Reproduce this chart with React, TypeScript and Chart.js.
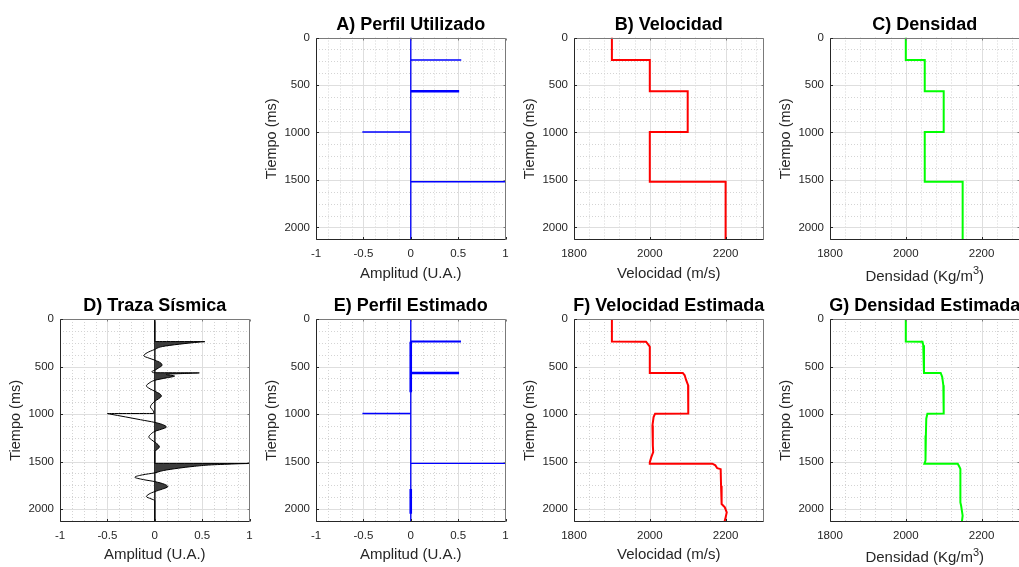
import React, { useEffect, useRef } from 'react';
import { Chart, registerables } from 'chart.js';

Chart.register(...registerables);

// ---------- axes ----------
const T_END = 2133;
const TIME_TICKS = [0, 500, 1000, 1500, 2000];
const TIME_MINOR = 125;
const AMP_TICKS = [-1, -0.5, 0, 0.5, 1];
const AMP_MINOR = 0.125;
const PROP_TICKS = [1800, 2000, 2200];
const PROP_MINOR = 40;

// ---------- layered model ----------
const layerTops = [0, 238, 567, 995, 1520];
const velocity = [1900, 2000, 2100, 2000, 2200];
const density = [2000, 2050, 2100, 2050, 2150];

const reflTimes = [238, 567, 995, 1520];
const reflAmps = [0.533, 0.511, -0.511, 1.0];

// ---------- inversion results ----------
const estReflTimes = [238, 567, 995, 1520];
const estReflAmps = [0.53, 0.51, -0.51, 1.0];
const estResidualStart = [240, 1790];
const estResidualEnd = [770, 2050];

const velEstTime = [0, 238, 239, 275, 292, 567, 568, 592, 644, 697, 803, 995, 996, 1032, 1120, 1331, 1401, 1454, 1507, 1522, 1523, 1540, 1570, 1580, 1754, 1930, 1947, 1982, 2035, 2106, 2133];
const velEstValue = [1900, 1900, 1990, 1997, 2000, 2000, 2087, 2092, 2096, 2101, 2102, 2101, 2014, 2010, 2007, 2008, 2009, 2004, 2000, 2000, 2165, 2173, 2178, 2187, 2188, 2189, 2190, 2198, 2203, 2199, 2197];

const denEstTime = [0, 238, 239, 275, 300, 567, 568, 609, 697, 995, 996, 1049, 1225, 1401, 1489, 1522, 1523, 1553, 1577, 1930, 1965, 2070, 2133];
const denEstValue = [2000, 2000, 2044, 2046, 2048, 2048, 2092, 2096, 2099, 2100, 2057, 2054, 2053, 2053, 2051, 2049, 2137, 2141, 2144, 2144, 2146, 2150, 2148];

// ---------- synthetic seismic trace ----------
const traceTime = [
  0, 237, 238, 242, 265, 290, 320, 355, 387, 412, 433, 460, 486, 515, 539, 553, 565,
  567, 570, 583, 600, 620, 645, 675, 704, 735, 760, 785, 810, 840, 866, 895, 926, 960, 994,
  995, 1000, 1030, 1060, 1088, 1110, 1137, 1160, 1183, 1215, 1243, 1270, 1296, 1322, 1348, 1372, 1394, 1519,
  1520, 1523, 1535, 1550, 1570, 1595, 1619, 1640, 1665, 1690, 1711, 1738, 1764, 1790, 1816, 1842, 1869, 1892, 1911, 2133,
];
const traceAmp = [
  0, 0, 0.53, 0.48, 0.26, 0.08, 0, -0.08, -0.116, -0.06, 0, 0.06, 0.077, 0.04, 0, -0.03, -0.012,
  0.47, 0.4, 0.12, 0.21, 0.12, 0, -0.06, -0.088, -0.05, 0, 0.05, 0.07, 0.04, 0, -0.03, -0.046, -0.02, -0.008,
  -0.5, -0.475, -0.31, -0.15, 0, 0.08, 0.123, 0.07, 0, -0.045, -0.063, -0.035, 0, 0.035, 0.049, 0.025, 0, 0,
  1.0, 0.9, 0.6, 0.42, 0.25, 0.09, 0, -0.13, -0.21, -0.12, 0, 0.1, 0.137, 0.08, 0, -0.06, -0.088, -0.04, 0, 0,
];

// ---------- styling ----------
const FONT = '"Liberation Sans", Arial, Helvetica, sans-serif';
const AXIS_COLOR = '#262626';
const BLUE = '#0000ff';
const RED = '#ff0000';
const GREEN = '#00ff00';

const COL_LEFT = [60, 316, 574.3, 830.3];
const PLOT_W = 189.5;
const ROW_TOP = [37.5, 319];
const ROW_BOTTOM = [240, 521.7];
const CANVAS_TOP = [0, 283];
const CANVAS_H = [290, 284];
const CANVAS_PAD_L = 60;
const CANVAS_W = 280;

type Pt = { x: number; y: number };
type Seg = { t: string; sup?: boolean };

type PanelSpec = {
  id: string;
  col: number;
  row: number;
  title: string;
  xLabel: Seg[];
  xMin: number;
  xMax: number;
  xTicks: number[];
  xMinor: number;
  datasets: any[];
  indexAxis?: 'x' | 'y';
  wiggleIndex?: number;
};

const zip = (ts: number[], vs: number[]): Pt[] => ts.map((t, i) => ({ x: vs[i], y: t }));

const stepProfile = (tops: number[], values: number[]): Pt[] => {
  const pts: Pt[] = [];
  tops.forEach((t, i) => {
    const tEnd = i + 1 < tops.length ? tops[i + 1] : T_END;
    pts.push({ x: values[i], y: t }, { x: values[i], y: tEnd });
  });
  return pts;
};

const lineDs = (data: Pt[], color: string, width: number, extra: any = {}) => ({
  data,
  borderColor: color,
  borderWidth: width,
  pointRadius: 0,
  fill: false,
  tension: 0,
  ...extra,
});

const spikeSets = (times: number[], amps: number[], widths: number[]) =>
  times.map((t, i) => lineDs([{ x: 0, y: t }, { x: amps[i], y: t }], BLUE, widths[i]));

const zeroLine = (color: string, width: number) => lineDs([{ x: 0, y: 0 }, { x: 0, y: T_END }], color, width);

const AMP_LABEL: Seg[] = [{ t: 'Amplitud (U.A.)' }];
const VEL_LABEL: Seg[] = [{ t: 'Velocidad (m/s)' }];
const DEN_LABEL: Seg[] = [{ t: 'Densidad (Kg/m' }, { t: '3', sup: true }, { t: ')' }];

const PANELS: PanelSpec[] = [
  {
    id: 'A', col: 1, row: 0, title: 'A) Perfil Utilizado', xLabel: AMP_LABEL,
    xMin: -1, xMax: 1, xTicks: AMP_TICKS, xMinor: AMP_MINOR,
    datasets: [zeroLine(BLUE, 1.3), ...spikeSets(reflTimes, reflAmps, [1.5, 2.5, 1.5, 1.5])],
  },
  {
    id: 'B', col: 2, row: 0, title: 'B) Velocidad', xLabel: VEL_LABEL,
    xMin: 1800, xMax: 2300, xTicks: PROP_TICKS, xMinor: PROP_MINOR,
    datasets: [lineDs(stepProfile(layerTops, velocity), RED, 2)],
  },
  {
    id: 'C', col: 3, row: 0, title: 'C) Densidad', xLabel: DEN_LABEL,
    xMin: 1800, xMax: 2300, xTicks: PROP_TICKS, xMinor: PROP_MINOR,
    datasets: [lineDs(stepProfile(layerTops, density), GREEN, 2)],
  },
  {
    id: 'D', col: 0, row: 1, title: 'D) Traza Sísmica', xLabel: AMP_LABEL,
    xMin: -1, xMax: 1, xTicks: AMP_TICKS, xMinor: AMP_MINOR,
    indexAxis: 'y',
    wiggleIndex: 0,
    datasets: [
      lineDs(zip(traceTime, traceAmp), '#000000', 1, { cubicInterpolationMode: 'monotone' }),
      zeroLine(AXIS_COLOR, 1),
    ],
  },
  {
    id: 'E', col: 1, row: 1, title: 'E) Perfil Estimado', xLabel: AMP_LABEL,
    xMin: -1, xMax: 1, xTicks: AMP_TICKS, xMinor: AMP_MINOR,
    datasets: [
      zeroLine(BLUE, 1.3),
      ...estResidualStart.map((s, i) => lineDs([{ x: 0, y: s }, { x: 0, y: estResidualEnd[i] }], BLUE, 2.6)),
      ...spikeSets(estReflTimes, estReflAmps, [2, 2.5, 1.5, 1.2]),
    ],
  },
  {
    id: 'F', col: 2, row: 1, title: 'F) Velocidad Estimada', xLabel: VEL_LABEL,
    xMin: 1800, xMax: 2300, xTicks: PROP_TICKS, xMinor: PROP_MINOR,
    datasets: [lineDs(zip(velEstTime, velEstValue), RED, 2)],
  },
  {
    id: 'G', col: 3, row: 1, title: 'G) Densidad Estimada', xLabel: DEN_LABEL,
    xMin: 1800, xMax: 2300, xTicks: PROP_TICKS, xMinor: PROP_MINOR,
    datasets: [lineDs(zip(denEstTime, denEstValue), GREEN, 2)],
  },
];

const isOn = (v: number, list: number[]) => list.some((t) => Math.abs(t - v) < 1e-6);

function drawSegs(ctx: CanvasRenderingContext2D, segs: Seg[], cx: number, baseline: number, size: number) {
  const supSize = Math.round(size * 0.7);
  const widths = segs.map((s) => {
    ctx.font = `${s.sup ? supSize : size}px ${FONT}`;
    return ctx.measureText(s.t).width;
  });
  let x = cx - widths.reduce((a, b) => a + b, 0) / 2;
  ctx.textAlign = 'left';
  ctx.textBaseline = 'alphabetic';
  segs.forEach((s, i) => {
    ctx.font = `${s.sup ? supSize : size}px ${FONT}`;
    ctx.fillText(s.t, x, s.sup ? baseline - size * 0.42 : baseline);
    x += widths[i];
  });
}

function framePlugin(p: PanelSpec) {
  return {
    id: 'panelFrame',
    beforeDatasetsDraw(chart: any) {
      const { ctx, chartArea: a } = chart;
      const sx = chart.scales.x;
      const sy = chart.scales.y;
      ctx.save();
      ctx.lineWidth = 1;
      // dotted minor grid
      ctx.strokeStyle = '#d4d4d4';
      ctx.setLineDash([1, 2]);
      ctx.beginPath();
      const nx = Math.round((p.xMax - p.xMin) / p.xMinor);
      for (let i = 1; i < nx; i++) {
        const v = p.xMin + i * p.xMinor;
        if (isOn(v, p.xTicks)) continue;
        const px = Math.round(sx.getPixelForValue(v)) + 0.5;
        ctx.moveTo(px, a.top);
        ctx.lineTo(px, a.bottom);
      }
      for (let i = 1; i * TIME_MINOR < T_END; i++) {
        const v = i * TIME_MINOR;
        if (isOn(v, TIME_TICKS)) continue;
        const py = Math.round(sy.getPixelForValue(v)) + 0.5;
        ctx.moveTo(a.left, py);
        ctx.lineTo(a.right, py);
      }
      ctx.stroke();
      // solid major grid
      ctx.setLineDash([]);
      ctx.strokeStyle = '#dedede';
      ctx.beginPath();
      p.xTicks.forEach((v) => {
        if (v <= p.xMin || v >= p.xMax) return;
        const px = Math.round(sx.getPixelForValue(v)) + 0.5;
        ctx.moveTo(px, a.top);
        ctx.lineTo(px, a.bottom);
      });
      TIME_TICKS.forEach((v) => {
        if (v <= 0 || v >= T_END) return;
        const py = Math.round(sy.getPixelForValue(v)) + 0.5;
        ctx.moveTo(a.left, py);
        ctx.lineTo(a.right, py);
      });
      ctx.stroke();
      ctx.restore();
    },
    beforeDatasetDraw(chart: any, args: any) {
      if (p.wiggleIndex === undefined || args.index !== p.wiggleIndex) return;
      const { ctx, chartArea: a } = chart;
      const line = args.meta.dataset;
      const pts = line.points;
      if (!pts || !pts.length) return;
      if (typeof line.updateControlPoints === 'function') line.updateControlPoints(a, 'y');
      const x0 = chart.scales.x.getPixelForValue(0);
      ctx.save();
      ctx.beginPath();
      ctx.rect(x0, a.top, a.right - x0 + 2, a.bottom - a.top);
      ctx.clip();
      ctx.beginPath();
      if (typeof line.path === 'function') {
        line.path(ctx);
      } else {
        pts.forEach((pt: any, i: number) => (i ? ctx.lineTo(pt.x, pt.y) : ctx.moveTo(pt.x, pt.y)));
      }
      ctx.lineTo(x0, pts[pts.length - 1].y);
      ctx.lineTo(x0, pts[0].y);
      ctx.closePath();
      ctx.fillStyle = '#3c3c3c';
      ctx.fill();
      ctx.restore();
    },
    afterDatasetsDraw(chart: any) {
      const { ctx, chartArea: a } = chart;
      const sx = chart.scales.x;
      const sy = chart.scales.y;
      const L = Math.round(a.left) + 0.5;
      const R = Math.round(a.right) - 0.5;
      const T = Math.round(a.top) + 0.5;
      const B = Math.round(a.bottom) - 0.5;
      ctx.save();
      ctx.lineWidth = 1;
      // top / right box edges
      ctx.strokeStyle = '#7a7a7a';
      ctx.beginPath();
      ctx.moveTo(L, T);
      ctx.lineTo(R, T);
      ctx.lineTo(R, B);
      p.xTicks.forEach((v) => {
        const px = Math.round(sx.getPixelForValue(v)) + 0.5;
        ctx.moveTo(px, T);
        ctx.lineTo(px, T + 2);
      });
      TIME_TICKS.forEach((v) => {
        const py = Math.round(sy.getPixelForValue(v)) + 0.5;
        ctx.moveTo(R, py);
        ctx.lineTo(R - 2, py);
      });
      ctx.stroke();
      // left / bottom axis lines with inward ticks
      ctx.strokeStyle = AXIS_COLOR;
      ctx.beginPath();
      ctx.moveTo(L, T);
      ctx.lineTo(L, B);
      ctx.lineTo(R, B);
      p.xTicks.forEach((v) => {
        const px = Math.round(sx.getPixelForValue(v)) + 0.5;
        ctx.moveTo(px, B);
        ctx.lineTo(px, B - 2.5);
      });
      TIME_TICKS.forEach((v) => {
        const py = Math.round(sy.getPixelForValue(v)) + 0.5;
        ctx.moveTo(L, py);
        ctx.lineTo(L + 2.5, py);
      });
      ctx.stroke();
      ctx.restore();
    },
    afterDraw(chart: any) {
      const { ctx, chartArea: a } = chart;
      const cx = (a.left + a.right) / 2;
      ctx.save();
      ctx.fillStyle = '#000000';
      ctx.font = `bold 18px ${FONT}`;
      ctx.textAlign = 'center';
      ctx.textBaseline = 'alphabetic';
      ctx.fillText(p.title, cx, a.top - 8);

      ctx.fillStyle = AXIS_COLOR;
      const hasSup = p.xLabel.some((s) => s.sup);
      drawSegs(ctx, p.xLabel, cx, a.bottom + (hasSup ? 40.5 : 37.5), 15);

      ctx.translate(a.left - 44, (a.top + a.bottom) / 2);
      ctx.rotate(-Math.PI / 2);
      ctx.font = `14.5px ${FONT}`;
      ctx.textAlign = 'center';
      ctx.textBaseline = 'middle';
      ctx.fillText('Tiempo (ms)', 0, 0);
      ctx.restore();
    },
  };
}

function buildConfig(p: PanelSpec): any {
  const plotTop = ROW_TOP[p.row] - CANVAS_TOP[p.row];
  const plotBottom = ROW_BOTTOM[p.row] - CANVAS_TOP[p.row];
  const canvasH = CANVAS_H[p.row];
  const tickFont = { family: FONT, size: 11.5 };
  return {
    type: 'line',
    data: { datasets: p.datasets },
    options: {
      animation: false,
      responsive: false,
      events: [],
      indexAxis: p.indexAxis ?? 'x',
      layout: { padding: { left: 0, top: plotTop, right: CANVAS_W - CANVAS_PAD_L - PLOT_W, bottom: 0 } },
      plugins: {
        legend: { display: false },
        tooltip: { enabled: false },
        title: { display: false },
      },
      scales: {
        x: {
          type: 'linear',
          position: 'bottom',
          min: p.xMin,
          max: p.xMax,
          bounds: 'data',
          grid: { display: false, drawTicks: false },
          border: { display: false },
          ticks: {
            padding: 7,
            font: tickFont,
            color: AXIS_COLOR,
            autoSkip: false,
            maxRotation: 0,
            minRotation: 0,
            includeBounds: false,
            callback: (v: number) => String(v),
          },
          afterBuildTicks: (s: any) => {
            s.ticks = p.xTicks.map((v) => ({ value: v }));
          },
          afterFit: (s: any) => {
            s.height = canvasH - plotBottom;
          },
        },
        y: {
          type: 'linear',
          position: 'left',
          reverse: true,
          min: 0,
          max: T_END,
          bounds: 'data',
          grid: { display: false, drawTicks: false },
          border: { display: false },
          ticks: {
            padding: 6,
            font: tickFont,
            color: AXIS_COLOR,
            autoSkip: false,
            includeBounds: false,
            callback: (v: number) => String(v),
          },
          afterBuildTicks: (s: any) => {
            s.ticks = TIME_TICKS.map((v) => ({ value: v }));
          },
          afterFit: (s: any) => {
            s.width = CANVAS_PAD_L;
          },
        },
      },
    },
    plugins: [framePlugin(p)],
  };
}

function Panel({ spec }: { spec: PanelSpec }) {
  const ref = useRef<HTMLCanvasElement>(null);
  useEffect(() => {
    if (!ref.current) return;
    const chart = new Chart(ref.current, buildConfig(spec));
    return () => chart.destroy();
  }, [spec]);
  const left = COL_LEFT[spec.col] - CANVAS_PAD_L;
  const top = CANVAS_TOP[spec.row];
  const h = CANVAS_H[spec.row];
  return (
    <canvas
      ref={ref}
      width={CANVAS_W}
      height={h}
      style={{ position: 'absolute', left, top, width: CANVAS_W, height: h }}
    />
  );
}

export default function App() {
  return (
    <div
      style={{
        position: 'fixed',
        left: 0,
        top: 0,
        width: 1019,
        height: 567,
        overflow: 'hidden',
        background: '#ffffff',
      }}
    >
      {PANELS.map((p) => (
        <Panel key={p.id} spec={p} />
      ))}
    </div>
  );
}
